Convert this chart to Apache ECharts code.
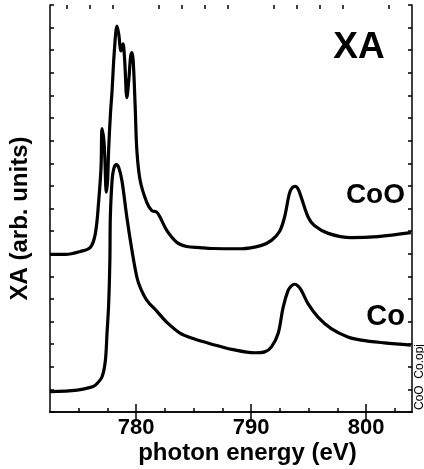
<!DOCTYPE html>
<html><head><meta charset="utf-8">
<script src="https://cdn.jsdelivr.net/npm/echarts@6/dist/echarts.min.js"></script>
<style>html,body{margin:0;padding:0;background:#fff}#c{width:424px;height:469px}</style>
</head><body><div id="c"></div>
<script>
// photon energy (eV) and absorption (arb. units)
const cooEnergy = [772.51,773.85,775.15,776.02,776.45,776.74,776.94,777.03,777.19,777.27,777.40,777.51,777.60,777.75,777.90,778.10,778.33,778.48,778.68,778.85,779.00,779.19,779.35,779.52,779.63,779.74,779.91,780.06,780.35,780.93,781.36,781.79,782.08,782.66,783.52,784.39,785.54,786.58,789.18,790.91,791.77,792.47,792.90,793.33,793.59,793.85,794.11,794.37,794.98,795.50,796.71,798.70,801.04,803.90];
const cooXA = [6.97,6.97,7.10,7.29,7.90,9.35,10.82,12.53,12.00,11.25,9.72,10.23,11.56,13.10,14.20,15.97,17.07,16.72,15.97,16.28,15.53,13.90,14.64,15.75,15.89,15.53,13.54,11.56,10.23,9.26,8.91,8.84,8.61,8.03,7.51,7.32,7.27,7.23,7.22,7.37,7.59,7.98,8.60,9.66,9.93,9.98,9.84,9.48,8.60,8.25,7.90,7.71,7.76,7.93];
const coEnergy = [772.49,774.87,776.02,776.45,777.03,777.32,777.46,777.60,777.71,777.75,777.90,778.05,778.27,778.48,778.76,779.19,779.63,780.06,780.35,780.93,781.79,782.66,783.81,784.96,786.58,788.31,790.33,791.19,791.77,792.35,792.79,793.22,793.51,793.79,794.07,794.37,794.95,795.82,796.97,798.42,799.57,801.58,803.90];
const coXA = [0.90,0.97,1.09,1.19,1.56,2.29,3.48,4.72,6.70,8.60,10.23,10.76,10.94,10.81,10.23,8.60,7.15,5.96,5.51,4.94,4.46,3.97,3.49,3.25,3.00,2.77,2.62,2.66,2.88,3.47,4.64,5.38,5.58,5.65,5.58,5.38,4.79,4.20,3.69,3.32,3.18,3.06,2.96];
const xMajorTicks = [780,790,800];
const xBottomMinorTicks = [775,777.5,782.5,785,787.5,792.5,795,797.5,802.5];
const xTopMinorTicks = [774,776,778,782,784,786,788,792,794,796,798,802];
const yMajorTicks = [7];
const seriesNames = ['CoO','Co'];

const FONT = '"Liberation Sans", Arial, Helvetica, sans-serif';
const chart = echarts.init(document.getElementById('c'), null, {renderer:'canvas'});
const line = {color:'#000', width:1.5};
const xBase = {type:'value', min:772.5, max:804, splitLine:{show:false}, gridIndex:0};
const yBase = {type:'value', min:0, max:18, interval:1, splitLine:{show:false}, axisLabel:{show:false}};
function pairs(xs, ys){ return xs.map((x,i)=>[x, ys[i]]); }

chart.setOption({
  animation:false,
  grid:{left:50, right:12, top:5, bottom:57},
  xAxis:[
    Object.assign({}, xBase, {position:'bottom', axisLine:{show:true, lineStyle:line},
      axisTick:{show:true, inside:true, length:8, customValues:xMajorTicks, lineStyle:line},
      axisLabel:{show:true, customValues:xMajorTicks, margin:5, color:'#000', fontFamily:FONT, fontWeight:'bold', fontSize:22}}),
    Object.assign({}, xBase, {position:'bottom', axisLine:{show:false},
      axisTick:{show:true, inside:true, length:4, customValues:xBottomMinorTicks, lineStyle:line},
      axisLabel:{show:false}}),
    Object.assign({}, xBase, {position:'top', axisLine:{show:true, lineStyle:line},
      axisTick:{show:true, inside:true, length:8, customValues:xMajorTicks, lineStyle:line},
      axisLabel:{show:false}}),
    Object.assign({}, xBase, {position:'top', axisLine:{show:false},
      axisTick:{show:true, inside:true, length:4, customValues:xTopMinorTicks, lineStyle:line},
      axisLabel:{show:false}})
  ],
  yAxis:[
    Object.assign({}, yBase, {position:'left', axisLine:{show:true, lineStyle:line},
      axisTick:{show:true, inside:true, length:4, lineStyle:line}}),
    Object.assign({}, yBase, {position:'left', axisLine:{show:false},
      axisTick:{show:true, inside:true, length:8, customValues:yMajorTicks, lineStyle:line}}),
    Object.assign({}, yBase, {position:'right', axisLine:{show:true, lineStyle:line},
      axisTick:{show:true, inside:true, length:4, lineStyle:line}})
  ],
  series:[
    {name:seriesNames[0], type:'line', xAxisIndex:0, yAxisIndex:0, data:pairs(cooEnergy, cooXA), smooth:0.35, showSymbol:false, lineStyle:{color:'#000', width:3.2}},
    {name:seriesNames[1], type:'line', xAxisIndex:0, yAxisIndex:0, data:pairs(coEnergy, coXA), smooth:0.35, showSymbol:false, lineStyle:{color:'#000', width:3.2}}
  ],
  graphic:[
    {type:'text', x:359, y:48, style:{text:'XA', font:'bold 37px '+FONT, fill:'#000', textAlign:'center', textVerticalAlign:'middle'}},
    {type:'text', x:405, y:195, style:{text:'CoO', font:'bold 28px '+FONT, fill:'#000', textAlign:'right', textVerticalAlign:'middle'}},
    {type:'text', x:405, y:317, style:{text:'Co', font:'bold 29px '+FONT, fill:'#000', textAlign:'right', textVerticalAlign:'middle'}},
    {type:'text', x:247.5, y:453, style:{text:'photon energy (eV)', font:'bold 24px '+FONT, fill:'#000', textAlign:'center', textVerticalAlign:'middle'}},
    {type:'text', x:20, y:218.5, rotation:Math.PI/2, style:{text:'XA (arb. units)', font:'bold 24px '+FONT, fill:'#000', textAlign:'center', textVerticalAlign:'middle'}},
    {type:'text', x:419.5, y:377, rotation:Math.PI/2, style:{text:'CoO_Co.opj', font:'12px '+FONT, fill:'#000', textAlign:'center', textVerticalAlign:'middle'}}
  ]
});
</script></body></html>
